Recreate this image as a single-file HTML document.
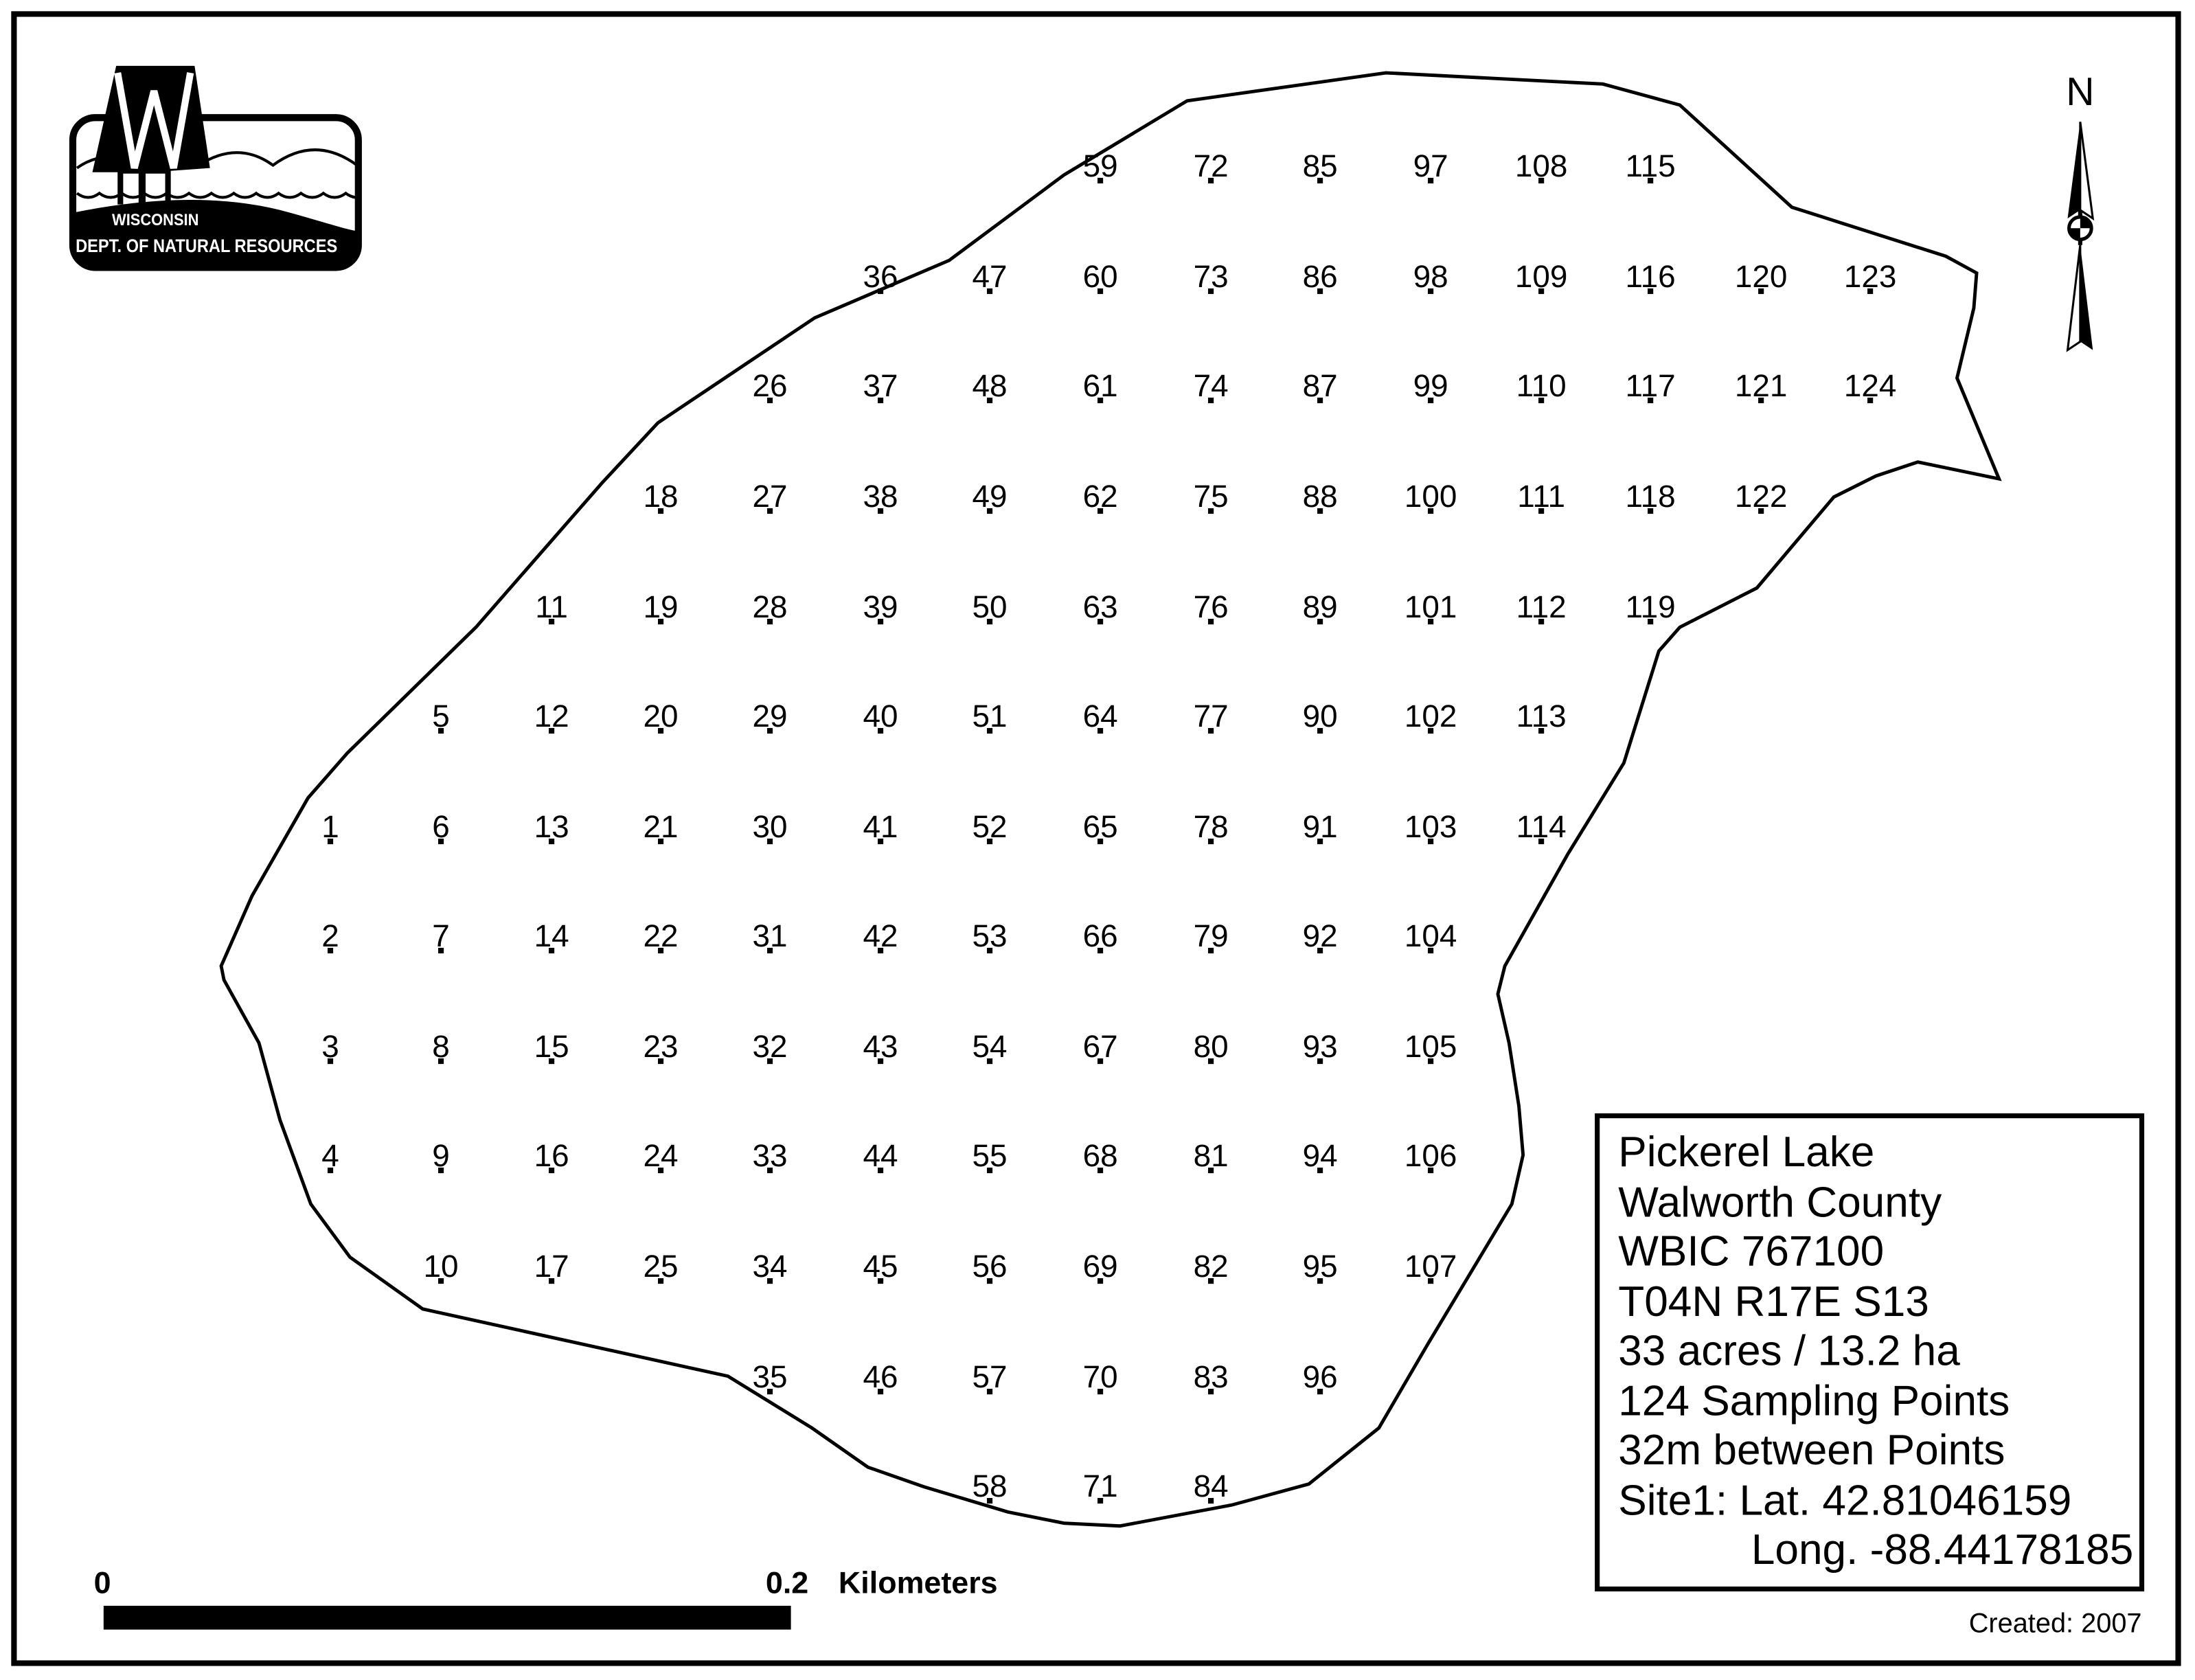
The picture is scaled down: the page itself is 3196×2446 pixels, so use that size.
<!DOCTYPE html>
<html><head><meta charset="utf-8"><style>html,body{margin:0;padding:0;background:#fff}svg{display:block}</style></head>
<body>
<svg xmlns="http://www.w3.org/2000/svg" width="3196" height="2446" viewBox="0 0 1568 1200">
<rect x="0" y="0" width="1568" height="1200" fill="#fff"/>
<rect x="10" y="10" width="1546" height="1178" fill="none" stroke="#000" stroke-width="4"/>
<!-- lake -->
<path d="M848,72 L990,52 L1145,60 L1200,75 L1280,148 L1390,183 L1412,195 L1410,220 L1398,270 L1428,342 L1370,330 L1340,340 L1310,355 L1255,420 L1200,448 L1185,465 L1160,545 L1120,610 L1075,690 L1070,710 L1078,745 L1085,790 L1088,825 L1080,860 L1050,910 L1020,960 L985,1020 L935,1060 L880,1075 L800,1090 L760,1088 L720,1080 L660,1062 L620,1048 L580,1020 L520,983 L302,935 L250,898 L222,860 L200,800 L185,745 L160,700 L158,690 L180,640 L220,570 L248,538 L340,448 L430,345 L470,302 L582,227 L678,186 L760,125 Z" fill="none" stroke="#000" stroke-width="2.4"/>
<!-- logo -->
<clipPath id="lc"><rect x="54" y="86" width="200" height="103" rx="14"/></clipPath>
<rect x="52" y="84" width="204" height="107" rx="16" fill="#fff" stroke="#000" stroke-width="5"/>
<g clip-path="url(#lc)">
<path d="M52,152 C110,140 160,140 200,150 C230,158 250,165 256,165 L256,195 L52,195 Z" fill="#000"/>
<path d="M55,120 Q75,106 92,118 M142,118 Q170,100 195,118 Q225,96 255,118" fill="none" stroke="#000" stroke-width="2"/>
<path d="M55,138 q8,6 16,0 q8,6 16,0 q8,6 16,0 q8,6 16,0 q8,6 16,0 q8,6 16,0 q8,6 16,0 q8,6 16,0 q8,6 16,0 q8,6 16,0 q8,6 16,0 q8,6 16,0 q8,6 16,0" fill="none" stroke="#000" stroke-width="2"/>
</g>
<polygon points="83,47 139,47 150,120 122,122 122,146 118,146 118,124 104,124 104,146 99,146 99,124 88,124 88,146 84,146 84,123 66,123" fill="#000"/>
<polyline points="84,52 96,120 110,65 124,120 136,52" fill="none" stroke="#fff" stroke-width="5" stroke-linejoin="miter"/>
<text x="80" y="161" font-family="Liberation Sans, sans-serif" font-weight="bold" font-size="12" fill="#fff" textLength="62" lengthAdjust="spacingAndGlyphs">WISCONSIN</text>
<text x="54" y="180" font-family="Liberation Sans, sans-serif" font-weight="bold" font-size="13" fill="#fff" textLength="187" lengthAdjust="spacingAndGlyphs">DEPT. OF NATURAL RESOURCES</text>
<!-- north arrow -->
<text x="1486" y="75" font-family="Liberation Sans, sans-serif" font-size="28" text-anchor="middle">N</text>
<line x1="1486" y1="150" x2="1486" y2="175" stroke="#000" stroke-width="3"/>
<polygon points="1486,87 1477,156 1486,150" fill="#000"/>
<polygon points="1486,87 1495,156 1486,150" fill="#fff" stroke="#000" stroke-width="1.5"/>
<polygon points="1486,175 1477,250 1486,244" fill="#fff" stroke="#000" stroke-width="1.5"/>
<polygon points="1486,175 1495,250 1486,244" fill="#000"/>
<circle cx="1486" cy="163" r="8" fill="#fff" stroke="#000" stroke-width="2.5"/>
<path d="M1486,163 L1478,163 A8,8 0 0 0 1486,171 Z M1486,163 L1494,163 A8,8 0 0 0 1486,155 Z" fill="#000"/>
<!-- scale bar -->
<rect x="74" y="1147" width="491" height="17" fill="#000"/>
<g font-family="Liberation Sans, sans-serif" font-weight="bold" font-size="22">
<text x="67" y="1138">0</text><text x="547" y="1138">0.2</text><text x="599" y="1138">Kilometers</text>
</g>
<!-- info box -->
<rect x="1141" y="797" width="389" height="338" fill="none" stroke="#000" stroke-width="3.5"/>
<g font-family="Liberation Sans, sans-serif" font-size="30.5">
<text x="1156" y="833">Pickerel Lake</text>
<text x="1156" y="869">Walworth County</text>
<text x="1156" y="904">WBIC 767100</text>
<text x="1156" y="940">T04N R17E S13</text>
<text x="1156" y="975">33 acres / 13.2 ha</text>
<text x="1156" y="1011">124 Sampling Points</text>
<text x="1156" y="1046">32m between Points</text>
<text x="1156" y="1082">Site1: Lat. 42.81046159</text>
<text x="1524" y="1117" text-anchor="end">Long. -88.44178185</text>
</g>
<text x="1530" y="1166" font-family="Liberation Sans, sans-serif" font-size="19.5" text-anchor="end">Created: 2007</text>
<!-- points -->
<g font-family="Liberation Sans, sans-serif" font-size="22.5" text-anchor="middle">
<text x="236" y="598">1</text><text x="236" y="676">2</text><text x="236" y="755">3</text><text x="236" y="833">4</text>
<text x="315" y="519">5</text><text x="315" y="598">6</text><text x="315" y="676">7</text><text x="315" y="755">8</text><text x="315" y="833">9</text><text x="315" y="912">10</text>
<text x="394" y="441">11</text><text x="394" y="519">12</text><text x="394" y="598">13</text><text x="394" y="676">14</text><text x="394" y="755">15</text><text x="394" y="833">16</text><text x="394" y="912">17</text>
<text x="472" y="362">18</text><text x="472" y="441">19</text><text x="472" y="519">20</text><text x="472" y="598">21</text><text x="472" y="676">22</text><text x="472" y="755">23</text><text x="472" y="833">24</text><text x="472" y="912">25</text>
<text x="550" y="283">26</text><text x="550" y="362">27</text><text x="550" y="441">28</text><text x="550" y="519">29</text><text x="550" y="598">30</text><text x="550" y="676">31</text><text x="550" y="755">32</text><text x="550" y="833">33</text><text x="550" y="912">34</text><text x="550" y="991">35</text>
<text x="629" y="205">36</text><text x="629" y="283">37</text><text x="629" y="362">38</text><text x="629" y="441">39</text><text x="629" y="519">40</text><text x="629" y="598">41</text><text x="629" y="676">42</text><text x="629" y="755">43</text><text x="629" y="833">44</text><text x="629" y="912">45</text><text x="629" y="991">46</text>
<text x="707" y="205">47</text><text x="707" y="283">48</text><text x="707" y="362">49</text><text x="707" y="441">50</text><text x="707" y="519">51</text><text x="707" y="598">52</text><text x="707" y="676">53</text><text x="707" y="755">54</text><text x="707" y="833">55</text><text x="707" y="912">56</text><text x="707" y="991">57</text><text x="707" y="1069">58</text>
<text x="786" y="126">59</text><text x="786" y="205">60</text><text x="786" y="283">61</text><text x="786" y="362">62</text><text x="786" y="441">63</text><text x="786" y="519">64</text><text x="786" y="598">65</text><text x="786" y="676">66</text><text x="786" y="755">67</text><text x="786" y="833">68</text><text x="786" y="912">69</text><text x="786" y="991">70</text><text x="786" y="1069">71</text>
<text x="865" y="126">72</text><text x="865" y="205">73</text><text x="865" y="283">74</text><text x="865" y="362">75</text><text x="865" y="441">76</text><text x="865" y="519">77</text><text x="865" y="598">78</text><text x="865" y="676">79</text><text x="865" y="755">80</text><text x="865" y="833">81</text><text x="865" y="912">82</text><text x="865" y="991">83</text><text x="865" y="1069">84</text>
<text x="943" y="126">85</text><text x="943" y="205">86</text><text x="943" y="283">87</text><text x="943" y="362">88</text><text x="943" y="441">89</text><text x="943" y="519">90</text><text x="943" y="598">91</text><text x="943" y="676">92</text><text x="943" y="755">93</text><text x="943" y="833">94</text><text x="943" y="912">95</text><text x="943" y="991">96</text>
<text x="1022" y="126">97</text><text x="1022" y="205">98</text><text x="1022" y="283">99</text><text x="1022" y="362">100</text><text x="1022" y="441">101</text><text x="1022" y="519">102</text><text x="1022" y="598">103</text><text x="1022" y="676">104</text><text x="1022" y="755">105</text><text x="1022" y="833">106</text><text x="1022" y="912">107</text>
<text x="1101" y="126">108</text><text x="1101" y="205">109</text><text x="1101" y="283">110</text><text x="1101" y="362">111</text><text x="1101" y="441">112</text><text x="1101" y="519">113</text><text x="1101" y="598">114</text>
<text x="1179" y="126">115</text><text x="1179" y="205">116</text><text x="1179" y="283">117</text><text x="1179" y="362">118</text><text x="1179" y="441">119</text>
<text x="1258" y="205">120</text><text x="1258" y="283">121</text><text x="1258" y="362">122</text>
<text x="1336" y="205">123</text><text x="1336" y="283">124</text>
</g>
<g fill="#000">
<rect x="234" y="599" width="4" height="4"/><rect x="234" y="677" width="4" height="4"/><rect x="234" y="756" width="4" height="4"/><rect x="234" y="834" width="4" height="4"/>
<rect x="313" y="520" width="4" height="4"/><rect x="313" y="599" width="4" height="4"/><rect x="313" y="677" width="4" height="4"/><rect x="313" y="756" width="4" height="4"/><rect x="313" y="834" width="4" height="4"/><rect x="313" y="913" width="4" height="4"/>
<rect x="392" y="442" width="4" height="4"/><rect x="392" y="520" width="4" height="4"/><rect x="392" y="599" width="4" height="4"/><rect x="392" y="677" width="4" height="4"/><rect x="392" y="756" width="4" height="4"/><rect x="392" y="834" width="4" height="4"/><rect x="392" y="913" width="4" height="4"/>
<rect x="470" y="363" width="4" height="4"/><rect x="470" y="442" width="4" height="4"/><rect x="470" y="520" width="4" height="4"/><rect x="470" y="599" width="4" height="4"/><rect x="470" y="677" width="4" height="4"/><rect x="470" y="756" width="4" height="4"/><rect x="470" y="834" width="4" height="4"/><rect x="470" y="913" width="4" height="4"/>
<rect x="548" y="284" width="4" height="4"/><rect x="548" y="363" width="4" height="4"/><rect x="548" y="442" width="4" height="4"/><rect x="548" y="520" width="4" height="4"/><rect x="548" y="599" width="4" height="4"/><rect x="548" y="677" width="4" height="4"/><rect x="548" y="756" width="4" height="4"/><rect x="548" y="834" width="4" height="4"/><rect x="548" y="913" width="4" height="4"/><rect x="548" y="992" width="4" height="4"/>
<rect x="627" y="206" width="4" height="4"/><rect x="627" y="284" width="4" height="4"/><rect x="627" y="363" width="4" height="4"/><rect x="627" y="442" width="4" height="4"/><rect x="627" y="520" width="4" height="4"/><rect x="627" y="599" width="4" height="4"/><rect x="627" y="677" width="4" height="4"/><rect x="627" y="756" width="4" height="4"/><rect x="627" y="834" width="4" height="4"/><rect x="627" y="913" width="4" height="4"/><rect x="627" y="992" width="4" height="4"/>
<rect x="705" y="206" width="4" height="4"/><rect x="705" y="284" width="4" height="4"/><rect x="705" y="363" width="4" height="4"/><rect x="705" y="442" width="4" height="4"/><rect x="705" y="520" width="4" height="4"/><rect x="705" y="599" width="4" height="4"/><rect x="705" y="677" width="4" height="4"/><rect x="705" y="756" width="4" height="4"/><rect x="705" y="834" width="4" height="4"/><rect x="705" y="913" width="4" height="4"/><rect x="705" y="992" width="4" height="4"/><rect x="705" y="1070" width="4" height="4"/>
<rect x="784" y="127" width="4" height="4"/><rect x="784" y="206" width="4" height="4"/><rect x="784" y="284" width="4" height="4"/><rect x="784" y="363" width="4" height="4"/><rect x="784" y="442" width="4" height="4"/><rect x="784" y="520" width="4" height="4"/><rect x="784" y="599" width="4" height="4"/><rect x="784" y="677" width="4" height="4"/><rect x="784" y="756" width="4" height="4"/><rect x="784" y="834" width="4" height="4"/><rect x="784" y="913" width="4" height="4"/><rect x="784" y="992" width="4" height="4"/><rect x="784" y="1070" width="4" height="4"/>
<rect x="863" y="127" width="4" height="4"/><rect x="863" y="206" width="4" height="4"/><rect x="863" y="284" width="4" height="4"/><rect x="863" y="363" width="4" height="4"/><rect x="863" y="442" width="4" height="4"/><rect x="863" y="520" width="4" height="4"/><rect x="863" y="599" width="4" height="4"/><rect x="863" y="677" width="4" height="4"/><rect x="863" y="756" width="4" height="4"/><rect x="863" y="834" width="4" height="4"/><rect x="863" y="913" width="4" height="4"/><rect x="863" y="992" width="4" height="4"/><rect x="863" y="1070" width="4" height="4"/>
<rect x="941" y="127" width="4" height="4"/><rect x="941" y="206" width="4" height="4"/><rect x="941" y="284" width="4" height="4"/><rect x="941" y="363" width="4" height="4"/><rect x="941" y="442" width="4" height="4"/><rect x="941" y="520" width="4" height="4"/><rect x="941" y="599" width="4" height="4"/><rect x="941" y="677" width="4" height="4"/><rect x="941" y="756" width="4" height="4"/><rect x="941" y="834" width="4" height="4"/><rect x="941" y="913" width="4" height="4"/><rect x="941" y="992" width="4" height="4"/>
<rect x="1020" y="127" width="4" height="4"/><rect x="1020" y="206" width="4" height="4"/><rect x="1020" y="284" width="4" height="4"/><rect x="1020" y="363" width="4" height="4"/><rect x="1020" y="442" width="4" height="4"/><rect x="1020" y="520" width="4" height="4"/><rect x="1020" y="599" width="4" height="4"/><rect x="1020" y="677" width="4" height="4"/><rect x="1020" y="756" width="4" height="4"/><rect x="1020" y="834" width="4" height="4"/><rect x="1020" y="913" width="4" height="4"/>
<rect x="1099" y="127" width="4" height="4"/><rect x="1099" y="206" width="4" height="4"/><rect x="1099" y="284" width="4" height="4"/><rect x="1099" y="363" width="4" height="4"/><rect x="1099" y="442" width="4" height="4"/><rect x="1099" y="520" width="4" height="4"/><rect x="1099" y="599" width="4" height="4"/>
<rect x="1177" y="127" width="4" height="4"/><rect x="1177" y="206" width="4" height="4"/><rect x="1177" y="284" width="4" height="4"/><rect x="1177" y="363" width="4" height="4"/><rect x="1177" y="442" width="4" height="4"/>
<rect x="1256" y="206" width="4" height="4"/><rect x="1256" y="284" width="4" height="4"/><rect x="1256" y="363" width="4" height="4"/>
<rect x="1334" y="206" width="4" height="4"/><rect x="1334" y="284" width="4" height="4"/>
</g>
</svg>
</body></html>
